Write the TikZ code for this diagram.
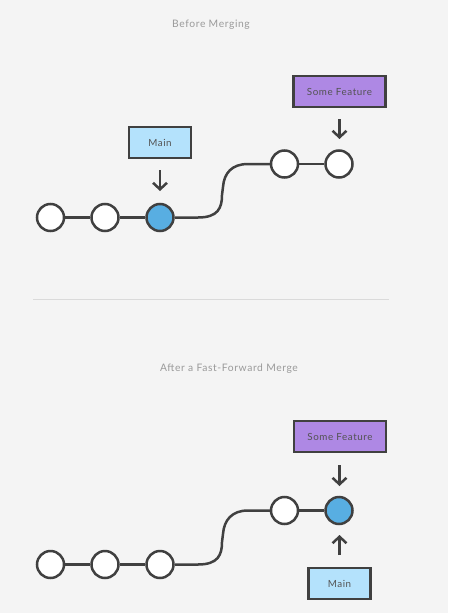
\documentclass[tikz,border=0pt]{standalone}
\usepackage{fontspec}
\setmainfont{Lato}
\usetikzlibrary{arrows.meta}
\definecolor{bg}{HTML}{F4F4F4}
\definecolor{ink}{HTML}{404040}
\definecolor{tip}{HTML}{58AEE2}
\definecolor{mainc}{HTML}{B4E2FC}
\definecolor{featc}{HTML}{AE88E4}
\definecolor{titlec}{HTML}{9A9A9A}
\definecolor{rule}{HTML}{DADADA}
\begin{document}
\begin{tikzpicture}[x=1pt,y=-1pt,
  commit/.style={circle,draw=ink,line width=2.5pt,fill=white,minimum size=27pt,inner sep=0pt},
  tipcommit/.style={commit,fill=tip},
  label box/.style={draw=ink,line width=2.5pt,minimum height=31pt,inner sep=0pt,font=\fontsize{9.8}{11}\selectfont\addfontfeature{LetterSpace=6},text=ink!90},
  mainbox/.style={label box,fill=mainc,minimum width=62pt},
  featbox/.style={label box,fill=featc,minimum width=92pt},
  edge/.style={draw=ink,line width=2.5pt},
  pointer/.style={draw=ink,line width=2.5pt,-{Straight Barb[length=6.5pt,width=14pt,line width=2.5pt]}},
  title/.style={text=titlec,font=\fontsize{10.3}{12}\selectfont\addfontfeature{LetterSpace=6}}]
\fill[bg] (0,0) rectangle (448,613);
\useasboundingbox (0,0) rectangle (448,613);
% top
\node[title] (t1) at (211,25) {Before Merging};
\node[commit] (a1) at (50.5,217.5) {};
\node[commit] (a2) at (105,217.5) {};
\node[tipcommit] (a3) at (160,217.5) {};
\node[commit] (a4) at (284.5,164) {};
\node[commit] (a5) at (339,164) {};
\draw[edge] (a1) -- (a2);
\draw[edge] (a2) -- (a3);
\draw[edge] (a3.east) -- (198,217.5) .. controls (218,217.5) and (222,208) .. (222,195) -- (223,187) .. controls (224,173) and (232,164) .. (248,164) -- (a4.west);
\draw[edge] (a4) -- (a5);
\node[mainbox] (m1) at (160,142.5) {Main};
\node[featbox] (f1) at (339.5,91.5) {Some Feature};
\coordinate (m1s) at (160,170);
\coordinate (m1e) at (160,191);
\draw[pointer] (m1s) -- (m1e);
\coordinate (f1s) at (339.5,119);
\coordinate (f1e) at (339.5,139);
\draw[pointer] (f1s) -- (f1e);
% divider
\coordinate (d1) at (33,299);
\coordinate (d2) at (389,299);
\draw[rule,line width=1pt] (d1) -- (d2);
% bottom
\node[title] (t2) at (229,369) {After a Fast-Forward Merge};
\node[commit] (b1) at (50.5,564.5) {};
\node[commit] (b2) at (105,564.5) {};
\node[commit] (b3) at (160,564.5) {};
\node[commit] (b4) at (284.5,510.5) {};
\node[tipcommit] (b5) at (339,510.5) {};
\draw[edge] (b1) -- (b2);
\draw[edge] (b2) -- (b3);
\draw[edge] (b3.east) -- (198,564.5) .. controls (218,564.5) and (222,555) .. (222,542) -- (223,534) .. controls (224,520) and (232,510.5) .. (248,510.5) -- (b4.west);
\draw[edge] (b4) -- (b5);
\node[featbox] (f2) at (340,436.5) {Some Feature};
\node[mainbox] (m2) at (339.5,583.5) {Main};
\coordinate (f2s) at (339.5,465);
\coordinate (f2e) at (339.5,486);
\draw[pointer] (f2s) -- (f2e);
\coordinate (m2s) at (339.5,555);
\coordinate (m2e) at (339.5,535);
\draw[pointer] (m2s) -- (m2e);
\end{tikzpicture}
\end{document}
